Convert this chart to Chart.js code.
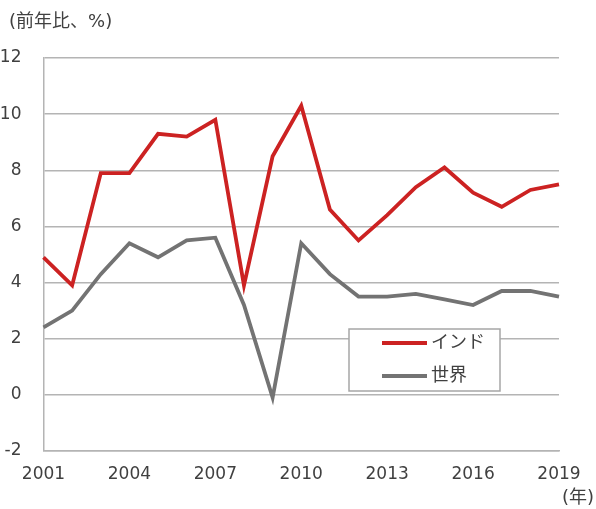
<!DOCTYPE html>
<html>
<head>
<meta charset="utf-8">
<script src="https://cdn.jsdelivr.net/npm/chart.js@4"></script>
<style>
  body { margin: 0; background: #fff; }
  #wrap { width: 596px; height: 509px; }
</style>
</head>
<body>
<div id="wrap"><canvas id="grafico" width="596" height="509"></canvas></div>
<script>
// valores
var anos = ["2001","2002","2003","2004","2005","2006","2007","2008","2009","2010",
            "2011","2012","2013","2014","2015","2016","2017","2018","2019"];
var india = [4.9, 3.9, 7.9, 7.9, 9.3, 9.2, 9.8, 3.9, 8.5, 10.3, 6.6, 5.5, 6.4, 7.4, 8.1, 7.2, 6.7, 7.3, 7.5];
var mundo = [2.4, 3.0, 4.3, 5.4, 4.9, 5.5, 5.6, 3.2, -0.1, 5.4, 4.3, 3.5, 3.5, 3.6, 3.4, 3.2, 3.7, 3.7, 3.5];
var rotulos = ["インド", "世界"];
var tituloY = "(前年比、%)";
var unidadeX = "(年)";

var FONTE = "'DejaVu Sans', 'Noto Sans CJK JP', sans-serif";
var COR_TEXTO = "#404040";
var COR_GRADE = "#b4b4b4";

var textos = {
    id: 'textos',
    afterDraw: function(chart){
        var ctx = chart.ctx;
        ctx.save();
        ctx.fillStyle = COR_TEXTO;
        ctx.font = "18px " + FONTE;
        ctx.textBaseline = "middle";
        ctx.textAlign = "left";
        ctx.fillText(tituloY, 9, 22);
        ctx.textAlign = "right";
        ctx.fillText(unidadeX, 594, 498);

        // legenda dentro da area
        var bx = 349, by = 329, bw = 151, bh = 62;
        ctx.fillStyle = "#fff";
        ctx.fillRect(bx, by, bw, bh);
        ctx.strokeStyle = "#a6a6a6";
        ctx.lineWidth = 1.5;
        ctx.strokeRect(bx, by, bw, bh);
        chart.data.datasets.forEach(function(ds, i){
            var y = by + 14 + i * 33;
            ctx.strokeStyle = ds.borderColor;
            ctx.lineWidth = 4;
            ctx.beginPath();
            ctx.moveTo(382, y);
            ctx.lineTo(427, y);
            ctx.stroke();
            ctx.fillStyle = COR_TEXTO;
            ctx.textAlign = "left";
            ctx.font = "18px " + FONTE;
            ctx.fillText(ds.label, 431, y);
        });
        ctx.restore();
    }
};

var contexto = document.getElementById("grafico").getContext("2d");

var grafico = new Chart(contexto, {
    type: 'line',
    data: {
        labels: anos,
        datasets: [{
            label: rotulos[0],
            borderColor: '#cc2222',
            backgroundColor: '#cc2222',
            data: india,
            borderWidth: 3.8,
            pointRadius: 0,
            tension: 0,
            fill: false
        }, {
            label: rotulos[1],
            borderColor: '#737373',
            backgroundColor: '#737373',
            data: mundo,
            borderWidth: 3.8,
            pointRadius: 0,
            tension: 0,
            fill: false
        }]
    },
    options: {
        responsive: false,
        animation: false,
        layout: { padding: { top: 58, right: 37, left: 0, bottom: 0 } },
        plugins: {
            legend: { display: false },
            tooltip: { enabled: false }
        },
        scales: {
            x: {
                grid: { display: false, drawTicks: false },
                border: { display: true, color: COR_GRADE, width: 1.5 },
                ticks: {
                    autoSkip: false,
                    maxRotation: 0,
                    padding: 13,
                    color: COR_TEXTO,
                    font: { family: FONTE, size: 17 },
                    callback: function(v, i){ return i % 3 === 0 ? anos[i] : ''; }
                },
                afterFit: function(s){ s.height = 58; }
            },
            y: {
                min: -2,
                max: 12,
                grid: { color: COR_GRADE, lineWidth: 1.5, drawTicks: false },
                border: { display: true, color: COR_GRADE, width: 1.5 },
                ticks: {
                    stepSize: 2,
                    padding: 22,
                    color: COR_TEXTO,
                    font: { family: FONTE, size: 17 }
                },
                afterFit: function(s){ s.width = 43.5; }
            }
        }
    },
    plugins: [textos]
});
</script>
</body>
</html>
